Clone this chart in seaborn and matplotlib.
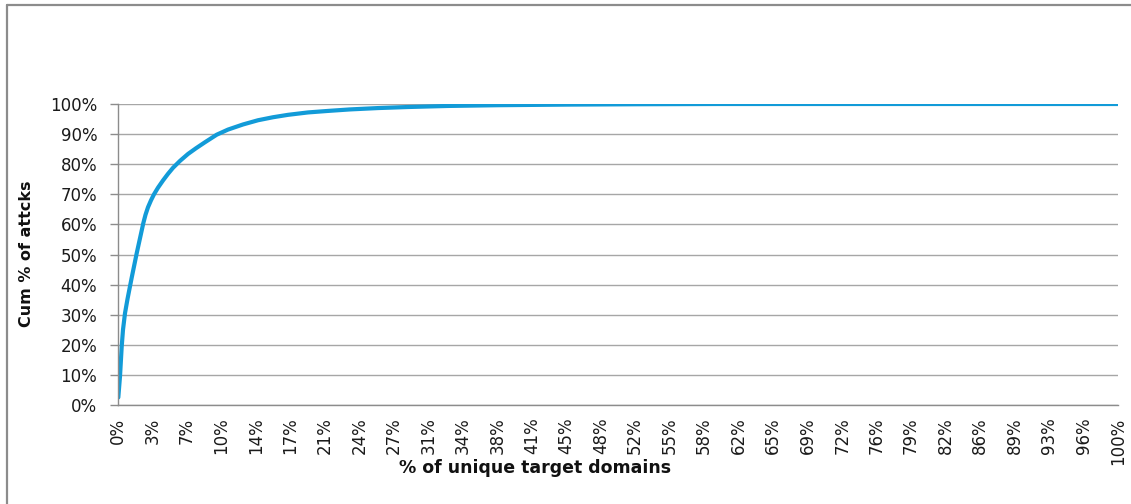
import matplotlib
matplotlib.use("Agg")
import matplotlib.pyplot as plt
import seaborn as sns
import pandas as pd
from matplotlib.lines import Line2D

# Data
domain_share = [0.0003, 0.002, 0.0037, 0.005, 0.007, 0.0095, 0.0115, 0.0137, 0.0187, 0.022,
                0.0253, 0.0275, 0.030, 0.033, 0.036, 0.040, 0.045, 0.050, 0.055, 0.062,
                0.070, 0.078, 0.087, 0.0987, 0.11, 0.125, 0.14, 0.155, 0.17, 0.19,
                0.21, 0.232, 0.26, 0.29, 0.33, 0.38, 0.45, 0.52, 0.6, 0.8, 1.0]
cum_attacks = [2.5, 9.5, 19.4, 25, 30.5, 35.2, 38.6, 42.3, 50.4, 55.4,
               60.4, 63.2, 65.7, 68.0, 70.0, 72.2, 74.6, 76.8, 78.8, 81.1,
               83.4, 85.3, 87.3, 89.8, 91.5, 93.2, 94.6, 95.6, 96.4, 97.2,
               97.7, 98.2, 98.65, 99.0, 99.35, 99.6, 99.8, 99.92, 100, 100, 100]
x_tick_labels = ["0%", "3%", "7%", "10%", "14%", "17%", "21%", "24%", "27%", "31%",
                 "34%", "38%", "41%", "45%", "48%", "52%", "55%", "58%", "62%", "65%",
                 "69%", "72%", "76%", "79%", "82%", "86%", "89%", "93%", "96%", "100%"]
y_ticks = [0, 10, 20, 30, 40, 50, 60, 70, 80, 90, 100]

df = pd.DataFrame({"x": domain_share, "y": cum_attacks})

sns.set_style("white")
plt.rcParams["font.family"] = ["DejaVu Sans"]

W, H = 1131, 504
fig = plt.figure(figsize=(W / 100, H / 100), dpi=100)
ax = fig.add_axes([118 / W, 1 - 405 / H, 1000 / W, 301 / H])

sns.lineplot(data=df, x="x", y="y", ax=ax, color="#129bd8", linewidth=3.0)

ax.set_xlim(0, 1)
ax.set_ylim(0, 100)
ax.set_yticks(y_ticks)
ax.set_yticklabels([f"{v}%" for v in y_ticks], fontsize=12, color="#1a1a1a")
n = len(x_tick_labels)
ax.set_xticks([i / (n - 1) for i in range(n)])
ax.set_xticklabels(x_tick_labels, rotation=90, fontsize=12, color="#1a1a1a")
ax.tick_params(axis="y", length=6, color="#8c8c8c", width=1, pad=9, direction="out", left=True)
ax.tick_params(axis="x", length=0, pad=9)
ax.grid(axis="y", color="#a6a6a6", linewidth=1)
ax.grid(axis="x", visible=False)
for s in ["top", "right"]:
    ax.spines[s].set_visible(False)
for s in ["left", "bottom"]:
    ax.spines[s].set_color("#8c8c8c")
    ax.spines[s].set_linewidth(1)
ax.set_xlabel("")
ax.set_ylabel("")

fig.text(535 / W, 1 - 468 / H, "% of unique target domains", ha="center", va="center",
         fontsize=12.5, fontweight="bold", color="#111111")
fig.text(27 / W, 1 - 254 / H, "Cum % of attcks", ha="center", va="center",
         rotation=90, fontsize=11.5, fontweight="bold", color="#111111")

# chart frame (top and left edges visible in the reference)
fig.add_artist(Line2D([6.5 / W, 1], [1 - 4.5 / H, 1 - 4.5 / H], transform=fig.transFigure,
                      color="#8c8c8c", linewidth=1.6))
fig.add_artist(Line2D([6.5 / W, 6.5 / W], [0, 1 - 4.5 / H], transform=fig.transFigure,
                      color="#8c8c8c", linewidth=1.6))

fig.savefig("out.png", dpi=100)
